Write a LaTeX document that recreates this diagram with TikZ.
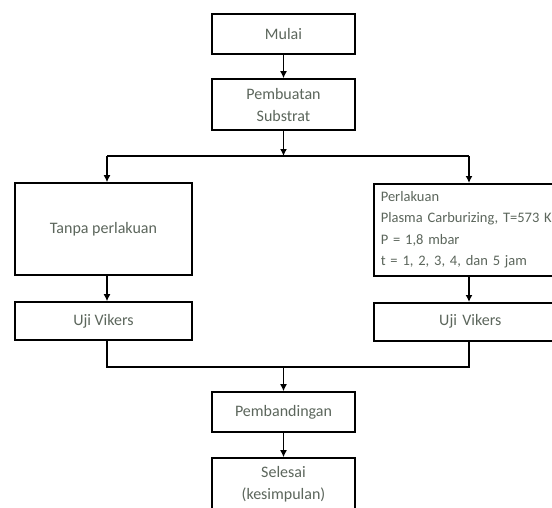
\documentclass[tikz,border=0pt]{standalone}
\usepackage{fontspec}
\setmainfont{Carlito}
\usetikzlibrary{arrows.meta}
\definecolor{teksabu}{RGB}{92,102,92}

\begin{document}
\begin{tikzpicture}[x=1pt, y=-1pt,
		kotak/.style={draw=black, line width=1.6pt, rectangle, align=center, text=teksabu,
			font=\fontsize{16}{22}\selectfont, inner sep=0pt},
		panah/.style={line width=1.6pt, -{Latex[length=7pt,width=7pt]}},
		garis/.style={line width=1.6pt}]
			%%%%% START %%%%%
			
			\useasboundingbox (0, 0) rectangle (552, 507);
			\clip (0, 0) rectangle (552, 507);
			\fill[white] (0, 0) rectangle (552, 507);
			
			\node[kotak, minimum width=143, minimum height=40] (mulai) at (283.5, 34) {Mulai};
			\node[kotak, minimum width=143, minimum height=51] (buat) at (283.5, 104.5) {Pembuatan\\Substrat};
			
			\node[kotak, minimum width=177, minimum height=92] (tanpa) at (103.5, 229) {Tanpa perlakuan};
			\node[kotak, anchor=north west, minimum width=215, minimum height=92, inner xsep=7pt,
				text width=201, align=left, font=\fontsize{14.5}{21.5}\selectfont] (perlakuan) at (373, 183)
				{Perlakuan\\Plasma Carburizing, T=573 K\\P = 1,8 mbar\\t = 1, 2, 3, 4, dan 5 jam};
			
			\node[kotak, minimum width=177, minimum height=38] (ujikiri) at (103.5, 321) {Uji Vikers};
			\node[kotak, anchor=north west, minimum width=215, minimum height=38, text width=193]
				(ujikanan) at (373, 302) {\hspace*{-22pt}Uji Vikers};
			
			\node[kotak, minimum width=143, minimum height=40] (banding) at (283.5, 412) {Pembandingan};
			\node[kotak, minimum width=143, minimum height=52] (selesai) at (283.5, 484) {Selesai\\(kesimpulan)};
			
			\coordinate (cabang) at (283.5, 156);
			\coordinate (gabung) at (283.5, 367);
			\coordinate (kolkiri) at (107, 0);
			\coordinate (kolkanan) at (469, 0);
			
			\draw[panah] (mulai) -- (buat);
			\draw[panah] (buat) -- (cabang);
			\draw[garis] (kolkiri |- cabang) -- (kolkanan |- cabang);
			\draw[panah] (kolkiri |- cabang) -- (kolkiri |- tanpa.north);
			\draw[panah] (kolkanan |- cabang) -- (kolkanan |- perlakuan.north);
			
			\draw[panah] (kolkiri |- tanpa.south) -- (kolkiri |- ujikiri.north);
			\draw[panah] (kolkanan |- perlakuan.south) -- (kolkanan |- ujikanan.north);
			
			\draw[garis] (kolkiri |- ujikiri.south) |- (gabung) -| (kolkanan |- ujikanan.south);
			\draw[panah] (gabung) -- (banding);
			\draw[panah] (banding) -- (selesai);
			
			%%%%% END %%%%%
\end{tikzpicture}
\end{document}
